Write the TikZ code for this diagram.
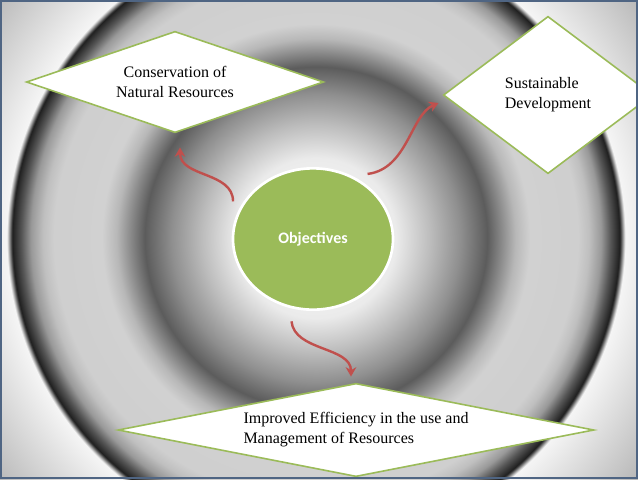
\documentclass[tikz,border=0pt]{standalone}
\usepackage{fontspec}
\setmainfont{Liberation Serif}
\newfontfamily\calibri{Carlito}
\usepackage{tikz}
\usetikzlibrary{arrows.meta, shapes.geometric, calc}

\definecolor{leafgreen}{HTML}{9BBB59}
\definecolor{brickred}{HTML}{C0504D}
\definecolor{slateframe}{HTML}{4F6583}

% grey rings behind everything
\pgfdeclareradialshading{rings}{\pgfpoint{0bp}{0bp}}{%
  color(0bp)=(white);
  color(60bp)=(black!8);
  color(85bp)=(black!26);
  color(108bp)=(black!44);
  color(124bp)=(black!60);
  color(128bp)=(black!64);
  color(138bp)=(black!47);
  color(149bp)=(black!28);
  color(160bp)=(black!18);
  color(196bp)=(black!19);
  color(204bp)=(black!25);
  color(213bp)=(black!40);
  color(220bp)=(black!66);
  color(227bp)=(black!88);
  color(231bp)=(black!4);
  color(300bp)=(black!28)}

\begin{document}
\begin{tikzpicture}[
  x=0.75pt, y=-0.75pt,
  every node/.style={font=\fontsize{12}{15}\selectfont},
  aim/.style={diamond, draw=leafgreen, line width=1.2pt, fill=white, inner sep=0pt},
  hub/.style={ellipse, draw=white, line width=2pt, fill=leafgreen, minimum width=120pt, minimum height=106pt, text=white, font=\calibri\bfseries\fontsize{12}{14}\selectfont},
  arrow/.style={-{Stealth[length=7pt, width=8pt]}, line width=1.8pt, draw=brickred}
]
\useasboundingbox (0,0) rectangle (638,479);
\clip (0,0) rectangle (638,479);

% Background
\node[inner sep=0pt] (bg) at (316,238) {\pgfuseshading{rings}};

% Centre
\node[hub] (obj) at (313,239) {Objectives};

% Aims
\node[aim, aspect=2.93, minimum width=223pt, minimum height=76pt, align=center] (cons) at (175,82) {Conservation of\\Natural Resources};
\node[aim, aspect=1.33, minimum width=157pt, minimum height=118pt, align=left] (sust) at (548,95) {Sustainable\\Development};
\node[aim, aspect=5.1, minimum width=357pt, minimum height=70pt, align=left] (eff) at (356,430) {Improved Efficiency in the use and\\Management of Resources};

% Curved arrows
\draw[arrow] ([shift={(-8,-4)}]obj.155) .. controls +(0,-30) and +(0,30) .. ([shift={(5,14)}]cons.south);
\draw[arrow] ([shift={(5,-8)}]obj.49) .. controls +(40,-5) and +(-28,12) .. ([shift={(-4,8)}]sust.west);
\draw[arrow] ([shift={(-4,12)}]obj.256) .. controls +(3,30) and +(0,-30) .. ([shift={(-5,-6)}]eff.north);

% Frame
\draw[slateframe, line width=1.5pt] (1,1) rectangle (637,478);

\end{tikzpicture}
\end{document}
